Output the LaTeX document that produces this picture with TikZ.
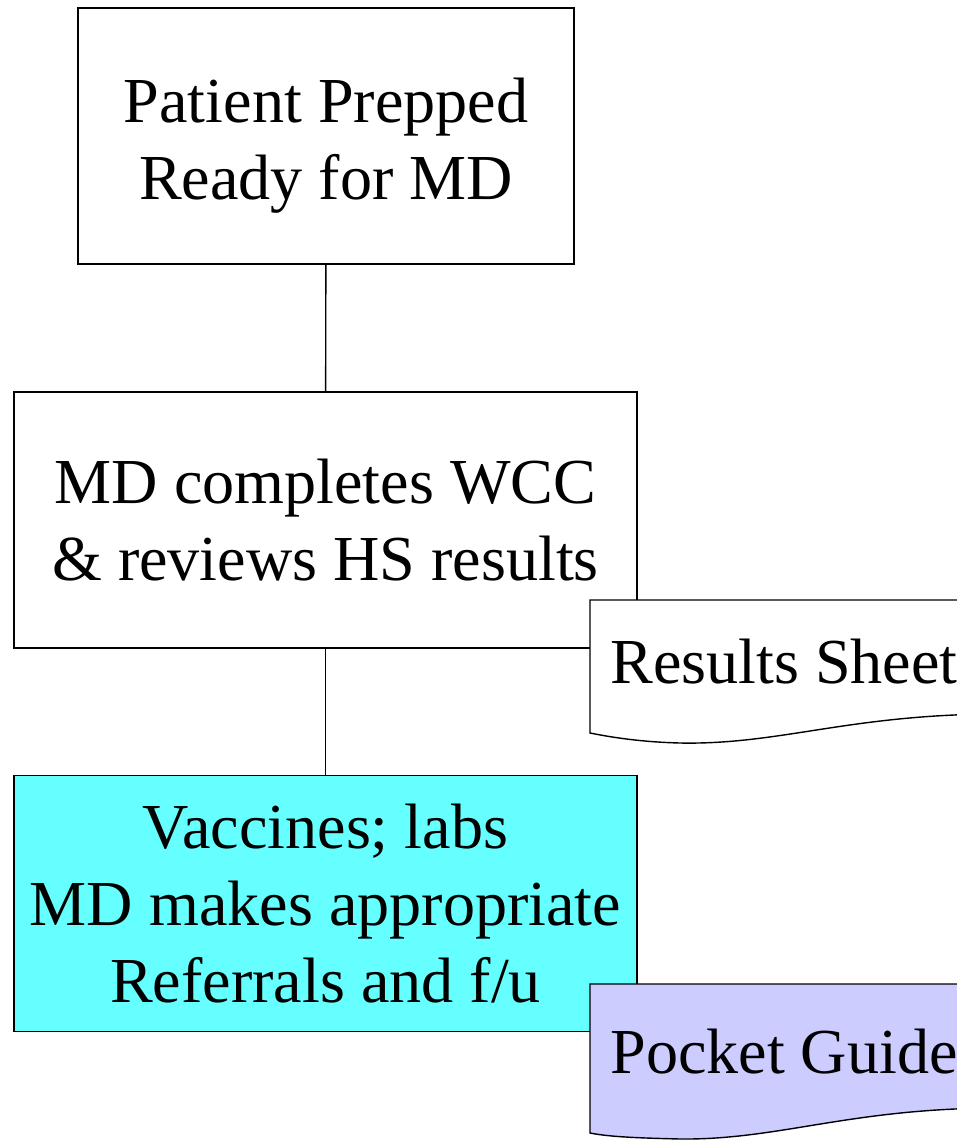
\documentclass[tikz,border=0pt]{standalone}
\usepackage{fontspec}
\setmainfont{Liberation Serif}
\definecolor{vaccinecyan}{HTML}{66FFFF}
\definecolor{guidelilac}{HTML}{CCCCFF}
\begin{document}
\begin{tikzpicture}[
x=0.02cm,
y=-0.02cm,
every node/.style={
    font=\fontsize{36.5}{43.8}\selectfont,
    align=center,
    inner sep=0pt
},
stepbox/.style={draw, line width=0.8pt, minimum height=5.12cm},
docbox/.style={draw, line width=0.8pt}
]
\clip (0,0) rectangle (957,1140);

%---------------- Steps ----------------
\node[stepbox, minimum width=9.92cm, text height=2.82cm] (prep) at (326,136) {Patient Prepped\\Ready for MD};
\node[stepbox, minimum width=12.46cm] (wcc) at (325.5,520) {MD completes WCC\\\& reviews HS results};
\node[stepbox, minimum width=12.46cm, fill=vaccinecyan] (refer) at (325.5,903.5) {Vaccines; labs\\MD makes appropriate\\Referrals and f/u};

\draw[line width=0.8pt] (prep)--(wcc);
\draw[line width=0.8pt] (wcc)--(refer);

%---------------- Documents ----------------
\draw[docbox, fill=white] (590,600) -- (1000,600) -- (1000,714)
    .. controls (850,714) and (780,745) .. (680,743)
    .. controls (640,742) and (610,737) .. (590,733) -- cycle;
\node[anchor=west] (sheet) at (610,662) {Results Sheet};

\draw[docbox, fill=guidelilac] (590,984) -- (1000,984) -- (1000,1108)
    .. controls (850,1108) and (780,1140) .. (680,1139)
    .. controls (640,1138) and (610,1137) .. (590,1133) -- cycle;
\node[anchor=west] (guide) at (610,1052) {Pocket Guide};

\end{tikzpicture}
\end{document}
